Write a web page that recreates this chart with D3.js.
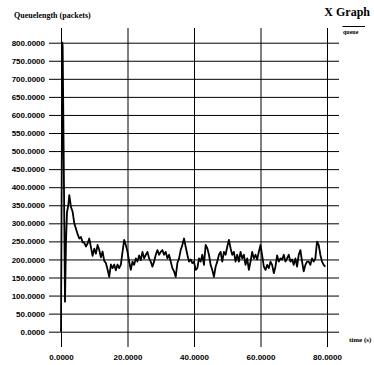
<!DOCTYPE html>
<meta charset="utf-8">
<style>
body { margin: 0; background: #fff; }
svg { font-family: "Liberation Serif", "Times New Roman", serif; font-weight: bold; }
.axis .domain { display: none; }
.axis .tick line { stroke: #000; stroke-width: 1px; }
.axis text { font-size: 8px; fill: #000; }
.line { fill: none; stroke: #000; stroke-width: 1.8px; stroke-linejoin: round; }
</style>
<body>
<script src="https://cdn.jsdelivr.net/npm/d3@7"></script>
<script>

var xTicks = [0, 20, 40, 60, 80];
var yTicks = [0, 50, 100, 150, 200, 250, 300, 350, 400, 450, 500, 550, 600, 650, 700, 750, 800];

// start of the run: sharp spike then the big overshoot
var startTime = [0, 0.2, 0.4, 0.5, 0.8, 1.2, 1.5, 1.8, 2.2];
var startQueue = [0, 400, 800, 790, 500, 83, 250, 330, 350];

// afterwards sampled every 0.5 s from t = 2.5
var queue = [
  378, 345, 332, 300, 285, 270, 258, 262, 248, 246, 236, 244, 258, 234, 210, 230, 216, 240,
  226, 206, 222, 196, 190, 172, 152, 186, 176, 186, 170, 186, 176, 186, 220, 254, 240,
  221, 194, 171, 194, 185, 203, 194, 211, 198, 221, 203, 213, 221, 203, 194, 180, 194,
  213, 226, 213, 221, 226, 213, 221, 203, 213, 194, 176, 167, 152, 190, 203, 226, 240,
  258, 235, 213, 194, 200, 190,
  194, 171, 176, 203, 194, 213, 185, 240, 231, 213, 185, 171, 152, 180, 194, 213, 221,
  194, 221, 213, 235, 254, 231, 213, 221, 194, 213, 194, 221, 203, 213, 185, 203, 171,
  194, 221, 203, 213, 200,
  221, 240, 211, 180, 171, 185, 176, 194, 185, 162, 180, 211, 194, 203, 200, 213, 194,
  203, 213, 194, 200, 185, 203, 180, 213, 226, 194, 167, 185, 194, 194, 185, 203, 194,
  203, 249, 240, 213, 194, 185, 180
];
var sampleTime = d3.range(queue.length).map(function(i) { return 2.5 + i * 0.5; });

var time = startTime.concat(sampleTime);
var values = startQueue.concat(queue);
var data = time.map(function(t, i) { return [t, values[i]]; });

var width = 374, height = 365;

var x = d3.scaleLinear().domain([0, 80]).range([61, 327]);
var y = d3.scaleLinear().domain([0, 800]).range([331.7, 42.7]);

var svg = d3.select("body").append("svg")
    .attr("width", width)
    .attr("height", height);

svg.append("g")
    .attr("class", "axis axis--y")
    .attr("transform", "translate(49,0)")
    .call(d3.axisLeft(y)
        .tickValues(yTicks)
        .tickSize(-290)
        .tickPadding(4)
        .tickFormat(d3.format(".4f")));

svg.append("g")
    .attr("class", "axis axis--x")
    .attr("transform", "translate(0,347)")
    .call(d3.axisBottom(x)
        .tickValues(xTicks)
        .tickSize(-319)
        .tickPadding(7)
        .tickFormat(d3.format(".4f")));

svg.append("path")
    .datum(data)
    .attr("class", "line")
    .attr("d", d3.line()
        .x(function(d) { return x(d[0]); })
        .y(function(d) { return y(d[1]); }));

svg.append("text")
    .attr("x", 14)
    .attr("y", 18)
    .attr("font-size", 8)
    .text("Queuelength (packets)");

svg.append("text")
    .attr("x", 370)
    .attr("y", 16)
    .attr("text-anchor", "end")
    .attr("font-size", 12)
    .text("X Graph");

svg.append("line")
    .attr("x1", 342.5).attr("x2", 365)
    .attr("y1", 26.5).attr("y2", 26.5)
    .attr("stroke", "#000");

svg.append("text")
    .attr("x", 343)
    .attr("y", 34)
    .attr("font-size", 6)
    .text("queue");

svg.append("text")
    .attr("x", 349)
    .attr("y", 342)
    .attr("font-size", 7)
    .text("time (s)");

</script>
